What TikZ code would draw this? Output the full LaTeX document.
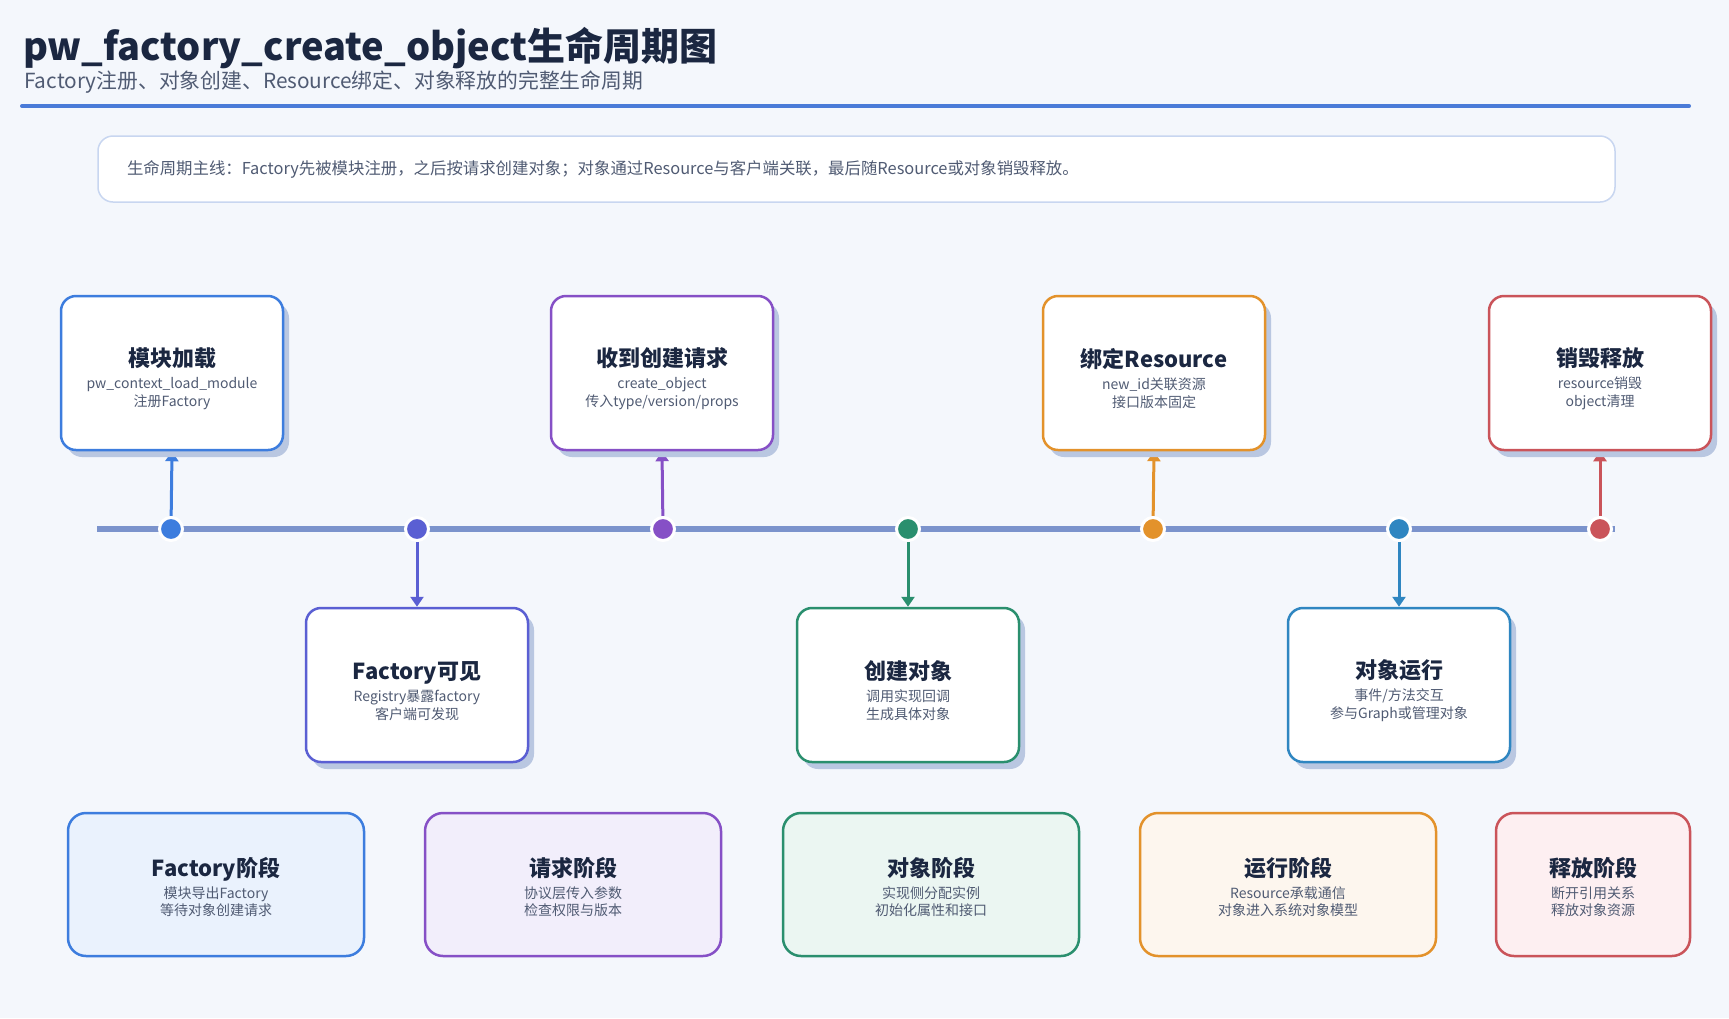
\documentclass[tikz,border=0pt]{standalone}
\usepackage{fontspec}
\setmainfont{Noto Sans CJK SC}
\usetikzlibrary{arrows.meta,shadows}
\definecolor{bgc}{HTML}{F4F7FC}
\definecolor{ink}{HTML}{1B2741}
\definecolor{subink}{HTML}{505B73}
\definecolor{rulec}{HTML}{4A7BD8}
\definecolor{linec}{HTML}{7B93CC}
\definecolor{shadowc}{HTML}{B9C7E1}
\definecolor{boxline}{HTML}{C8D6F0}
\definecolor{cblue}{HTML}{3D7DDE}
\definecolor{cindigo}{HTML}{5A5FD3}
\definecolor{cpurple}{HTML}{8650C6}
\definecolor{cgreen}{HTML}{2A8F6E}
\definecolor{corange}{HTML}{E3922B}
\definecolor{cteal}{HTML}{2F86C1}
\definecolor{cred}{HTML}{CA545A}
\definecolor{fblue}{HTML}{EAF2FD}
\definecolor{fpurple}{HTML}{F2EEFB}
\definecolor{fgreen}{HTML}{EBF6F2}
\definecolor{forange}{HTML}{FDF6EE}
\definecolor{fred}{HTML}{FDEFF1}
\pgfdeclarelayer{bgfill}
\pgfdeclarelayer{back}
\pgfsetlayers{bgfill,back,main}
\newcommand{\cardtext}[4][30pt]{{\fontsize{22}{26}\selectfont\bfseries\color{ink}\rule{0pt}{#1}#2}\\[4.5pt]#3\\#4}
\tikzset{
  card/.style={draw=#1, fill=white, line width=2.5pt, rounded corners=15pt,
    minimum width=222pt, minimum height=154pt, align=center, text=subink,
    font=\fontsize{14}{17.5}\selectfont,
    drop shadow={shadow xshift=6pt, shadow yshift=-7pt, fill=shadowc, opacity=1}},
  phase/.style 2 args={draw=#1, fill=#2, line width=2.5pt, rounded corners=18pt,
    minimum height=143pt, align=center, text=subink, font=\fontsize{14}{17.5}\selectfont},
  dot/.style={circle, fill=#1, draw=white, line width=3pt, minimum size=23pt, inner sep=0pt},
  link/.style={draw=#1, line width=3pt, -{Triangle[length=10pt,width=13pt]}}
}
\begin{document}
\begin{tikzpicture}[x=1pt,y=-1pt]
  \begin{pgfonlayer}{bgfill}
    \fill[bgc] (0,0) rectangle (1729,1018);
  \end{pgfonlayer}
  \useasboundingbox (0,0) rectangle (1729,1018);
  \node[anchor=base west, inner sep=0pt, text=ink, font=\fontsize{38}{44}\selectfont\bfseries]
    (T0) at (23,60) {pw\_factory\_create\_object生命周期图};
  \node[anchor=base west, inner sep=0pt, text=subink, font=\fontsize{20.8}{25}\selectfont]
    (T1) at (24,88) {Factory注册、对象创建、Resource绑定、对象释放的完整生命周期};
  \coordinate (R0) at (22,106);
  \coordinate (R1) at (1689,106);
  \draw[rulec, line width=4pt, line cap=round] (R0) -- (R1);
  \node[draw=boxline, fill=white, line width=1.5pt, rounded corners=15pt,
    minimum height=66pt, text width=1459pt, inner xsep=29pt, align=left,
    text=subink, font=\fontsize{16.4}{20}\selectfont] (S0) at (856.5,169)
    {生命周期主线：Factory先被模块注册，之后按请求创建对象；对象通过Resource与客户端关联，最后随Resource或对象销毁释放。};
  \coordinate (L0) at (97,529);
  \coordinate (L1) at (1615,529);
  \node[dot=cblue] (D0_0) at (171,529) {};
  \node[dot=cindigo] (D0_1) at (417,529) {};
  \node[dot=cpurple] (D0_2) at (663,529) {};
  \node[dot=cgreen] (D0_3) at (908,529) {};
  \node[dot=corange] (D0_4) at (1153,529) {};
  \node[dot=cteal] (D0_5) at (1399,529) {};
  \node[dot=cred] (D0_6) at (1600,529) {};
  \node[card=cblue] (C0_0) at (172,373) {\cardtext{模块加载}{pw\_context\_load\_module}{注册Factory}};
  \node[card=cpurple] (C0_2) at (662,373) {\cardtext{收到创建请求}{create\_object}{传入type/version/props}};
  \node[card=corange] (C0_4) at (1154,373) {\cardtext{绑定Resource}{new\_id关联资源}{接口版本固定}};
  \node[card=cred] (C0_6) at (1600,373) {\cardtext{销毁释放}{resource销毁}{object清理}};
  \node[card=cindigo] (C1_1) at (417,685) {\cardtext{Factory可见}{Registry暴露factory}{客户端可发现}};
  \node[card=cgreen] (C1_3) at (908,685) {\cardtext{创建对象}{调用实现回调}{生成具体对象}};
  \node[card=cteal] (C1_5) at (1399,685) {\cardtext{对象运行}{事件/方法交互}{参与Graph或管理对象}};
  \node[phase={cblue}{fblue}, minimum width=296pt] (P0_0) at (216,884.5) {\cardtext[24pt]{Factory阶段}{模块导出Factory}{等待对象创建请求}};
  \node[phase={cpurple}{fpurple}, minimum width=296pt] (P0_1) at (573,884.5) {\cardtext[24pt]{请求阶段}{协议层传入参数}{检查权限与版本}};
  \node[phase={cgreen}{fgreen}, minimum width=296pt] (P0_2) at (931,884.5) {\cardtext[24pt]{对象阶段}{实现侧分配实例}{初始化属性和接口}};
  \node[phase={corange}{forange}, minimum width=296pt] (P0_3) at (1288,884.5) {\cardtext[24pt]{运行阶段}{Resource承载通信}{对象进入系统对象模型}};
  \node[phase={cred}{fred}, minimum width=194pt] (P0_4) at (1593,884.5) {\cardtext[24pt]{释放阶段}{断开引用关系}{释放对象资源}};
  \begin{pgfonlayer}{back}
    \draw[linec, line width=6pt] (L0) -- (L1);
    \path (D0_0) edge [link=cblue] (C0_0.south);
    \path (D0_2) edge [link=cpurple] (C0_2.south);
    \path (D0_4) edge [link=corange] (C0_4.south);
    \path (D0_6) edge [link=cred] (C0_6.south);
    \path (D0_1) edge [link=cindigo] (C1_1.north);
    \path (D0_3) edge [link=cgreen] (C1_3.north);
    \path (D0_5) edge [link=cteal] (C1_5.north);
  \end{pgfonlayer}
\end{tikzpicture}
\end{document}
